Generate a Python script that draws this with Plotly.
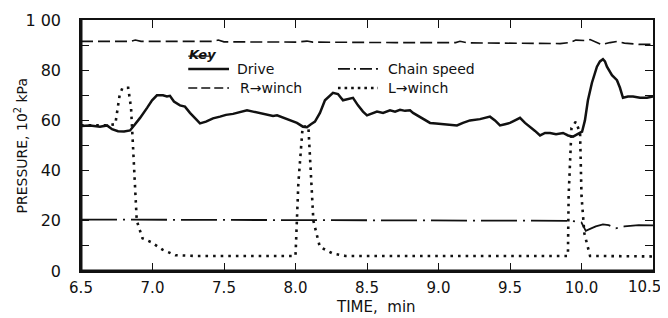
import plotly.graph_objects as go

# ---- data ----
drive_t = [6.500, 6.563, 6.633, 6.682, 6.717, 6.759, 6.801, 6.843, 6.871, 6.913, 6.962, 6.997,
           7.031, 7.073, 7.101, 7.122, 7.150, 7.192, 7.227, 7.262, 7.304, 7.332, 7.374, 7.423,
           7.472, 7.514, 7.563, 7.612, 7.661, 7.703, 7.752, 7.801, 7.843, 7.871, 7.913, 7.962,
           8.010, 8.052, 8.080, 8.108, 8.136, 8.171, 8.206, 8.262, 8.297, 8.332, 8.367, 8.402,
           8.437, 8.472, 8.500, 8.535, 8.570, 8.612, 8.661, 8.696, 8.731, 8.766, 8.801, 8.822,
           8.850, 8.892, 8.941, 8.983, 9.031, 9.080, 9.129, 9.171, 9.220, 9.290, 9.360, 9.395,
           9.430, 9.465, 9.500, 9.535, 9.570, 9.605, 9.640, 9.675, 9.710, 9.745, 9.780, 9.822,
           9.871, 9.906, 9.941, 9.976, 10.004, 10.024, 10.045, 10.073, 10.108, 10.129, 10.150,
           10.164, 10.178, 10.213, 10.248, 10.269, 10.290, 10.325, 10.360, 10.409, 10.458, 10.500]
drive_p = [57.8, 58.0, 57.5, 58.0, 56.5, 55.7, 55.6, 56.0, 58.0, 61.0, 65.0, 68.0,
           70.0, 70.0, 69.5, 69.8, 67.5, 66.0, 65.5, 63.0, 60.5, 58.8, 59.5, 60.8,
           61.5, 62.2, 62.6, 63.2, 64.0, 63.5, 63.0, 62.5, 61.8, 62.0, 61.0, 60.0,
           59.0, 57.5, 57.3, 58.5, 59.5, 63.0, 68.0, 71.0, 70.5, 68.0, 68.5, 69.0,
           66.0, 63.5, 62.0, 62.8, 63.5, 63.0, 64.0, 63.5, 64.2, 63.8, 64.0, 63.0,
           62.0, 60.5, 59.0, 58.8, 58.5, 58.3, 58.0, 59.0, 60.0, 60.5, 61.5, 60.0,
           58.0, 58.5, 59.0, 60.0, 61.0, 59.0, 57.5, 55.8, 54.0, 55.0, 55.0, 54.5,
           55.0, 54.0, 53.5, 54.5, 55.5, 60.0, 68.0, 75.0, 81.4, 83.5, 84.4,
           83.5, 81.4, 78.0, 76.0, 73.0, 69.0, 69.5, 69.5, 69.0, 69.0, 69.5]

rwinch_t = [6.50, 6.85, 6.88, 6.92, 7.42, 7.46, 7.50, 8.00, 8.08, 8.12, 8.70, 9.12, 9.15,
            9.20, 9.85, 9.92, 9.96, 10.02, 10.06, 10.10, 10.14, 10.20, 10.25, 10.30, 10.40, 10.50]
rwinch_p = [91.5, 91.5, 92.0, 91.5, 91.5, 92.0, 91.3, 91.2, 91.6, 91.2, 91.0, 91.0, 91.5,
            90.9, 90.6, 91.0, 92.0, 91.8, 92.2, 91.2, 90.2, 91.0, 91.5, 90.8, 90.3, 90.3]

lwinch_t = [6.50, 6.68, 6.74, 6.77, 6.79, 6.83, 6.85, 6.87, 6.89, 6.93, 6.99, 7.07, 7.16,
            7.30, 7.99, 8.00, 8.02, 8.05, 8.09, 8.11, 8.125, 8.17, 8.26, 8.35, 9.905, 9.91,
            9.93, 9.96, 9.99, 10.00, 10.02, 10.06, 10.50]
lwinch_p = [58.0, 58.0, 58.5, 70.0, 73.0, 73.0, 65.0, 40.0, 20.0, 13.0, 11.5, 8.5, 6.3,
            6.0, 6.0, 6.0, 35.0, 57.5, 57.5, 35.0, 20.0, 9.6, 7.0, 6.0, 6.0, 30.0,
            57.0, 59.5, 55.0, 30.0, 15.0, 6.0, 5.8]

chain_t = [6.50, 9.90, 9.93, 10.00, 10.03, 10.06, 10.10, 10.15, 10.19, 10.24, 10.30, 10.40, 10.50]
chain_p = [20.5, 20.3, 20.0, 19.3, 16.0, 16.8, 17.8, 18.6, 18.3, 17.0, 17.8, 18.3, 18.2]

x_ticks = [6.5, 7.0, 7.5, 8.0, 8.5, 9.0, 9.5, 10.0, 10.5]
x_labels = ["6.5", "7.0", "7.5", "8.0", "8.5", "9.0", "9.5", "10.0", "10.5"]
y_ticks = [0, 20, 40, 60, 80, 100]
y_labels = ["0", "20", "40", "60", "80", "1 00"]
y_minor_ticks = [10, 30, 50, 70, 90]

legend_names = ["Drive", "Chain speed", "R\u2192winch", "L\u2192winch"]
x_title = "TIME,  min"
y_title = "PRESSURE, 10<sup>2</sup> kPa"

FONT = "DejaVu Sans, sans-serif"
BLACK = "#111111"

fig = go.Figure()
fig.add_trace(go.Scatter(x=lwinch_t, y=lwinch_p, mode="lines",
                         line=dict(color=BLACK, width=2.6, dash="2.6px,5px"),
                         name=legend_names[3], showlegend=False))
fig.add_trace(go.Scatter(x=chain_t, y=chain_p, mode="lines",
                         line=dict(color=BLACK, width=1.8, dash="36px,6px,2px,6px"),
                         name=legend_names[1], showlegend=False))
fig.add_trace(go.Scatter(x=rwinch_t, y=rwinch_p, mode="lines",
                         line=dict(color=BLACK, width=1.6, dash="12px,5px"),
                         name=legend_names[2], showlegend=False))
fig.add_trace(go.Scatter(x=drive_t, y=drive_p, mode="lines",
                         line=dict(color=BLACK, width=2.5),
                         name=legend_names[0], showlegend=False))

# ---- key drawn inside the plot ----
key_items = [
    (7.25, 7.535, 7.58, 80.5, legend_names[0], dict(color=BLACK, width=2.6)),
    (8.297, 8.577, 8.63, 80.5, legend_names[1], dict(color=BLACK, width=1.8, dash="12px,4px,2px,4px")),
    (7.25, 7.535, 7.60, 72.9, legend_names[2], dict(color=BLACK, width=1.6, dash="9px,4px")),
    (8.297, 8.577, 8.63, 72.9, legend_names[3], dict(color=BLACK, width=2.6, dash="2.6px,4px")),
]
for x0, x1, xt, yy, name, ln in key_items:
    fig.add_trace(go.Scatter(x=[x0, x1], y=[yy, yy], mode="lines", line=ln,
                             hoverinfo="skip", showlegend=False))
    fig.add_annotation(x=xt, y=yy, xref="x", yref="y", text=name, showarrow=False,
                       xanchor="left", yanchor="middle",
                       font=dict(family=FONT, size=14, color=BLACK))
fig.add_annotation(x=7.24, y=86.3, xref="x", yref="y",
                   text="<b><i>Key</i></b>",
                   showarrow=False, xanchor="left", yanchor="middle",
                   font=dict(family=FONT, size=13, color=BLACK))
fig.add_shape(type="line", xref="x", yref="y", x0=7.25, x1=7.40, y0=85.6, y1=85.6,
              line=dict(color=BLACK, width=1.2))

# axis titles and the last x label (placed so it stays inside the page)
fig.add_annotation(x=0.516, y=0, xref="paper", yref="paper", yshift=-36,
                   text=x_title, showarrow=False, xanchor="center", yanchor="middle",
                   font=dict(family=FONT, size=15, color=BLACK))
fig.add_annotation(x=0, y=0.5, xref="paper", yref="paper", xshift=-60,
                   text=y_title, textangle=-90, showarrow=False,
                   xanchor="center", yanchor="middle",
                   font=dict(family=FONT, size=14, color=BLACK))
fig.add_annotation(x=x_ticks[-1], y=0, xref="x", yref="paper", yshift=-16, xshift=-9,
                   text=x_labels[-1], showarrow=False, xanchor="center", yanchor="middle",
                   font=dict(family=FONT, size=15, color=BLACK))

fig.update_xaxes(range=[6.5, 10.5], tickvals=x_ticks[:-1], ticktext=x_labels[:-1],
                 ticks="inside", ticklen=8, tickwidth=1.3, tickcolor=BLACK,
                 showline=True, linecolor=BLACK, linewidth=1.6, mirror="ticks",
                 showgrid=False, zeroline=False, ticklabelstandoff=2, automargin=False,
                 tickfont=dict(family=FONT, size=15, color=BLACK))
fig.update_yaxes(range=[0, 100], tickvals=y_ticks, ticktext=y_labels,
                 ticks="inside", ticklen=8, tickwidth=1.3, tickcolor=BLACK,
                 minor=dict(tickvals=y_minor_ticks, ticks="inside", ticklen=8,
                            tickwidth=1.3, tickcolor=BLACK, showgrid=False),
                 showline=True, linecolor=BLACK, linewidth=1.6, mirror="ticks",
                 showgrid=False, zeroline=False, ticklabelstandoff=15, automargin=False,
                 tickfont=dict(family=FONT, size=16, color=BLACK))

# heavier left and bottom frame edges
fig.add_shape(type="line", xref="paper", yref="paper", x0=0, x1=0, y0=0, y1=1,
              line=dict(color=BLACK, width=3))
fig.add_shape(type="line", xref="paper", yref="paper", x0=0, x1=1, y0=0, y1=0,
              line=dict(color=BLACK, width=3))

# the page body adds an 8px offset, so the figure is sized to fit the window
fig.update_layout(width=660, height=310, margin=dict(l=73, r=15, t=12, b=47),
                  paper_bgcolor="white", plot_bgcolor="white", showlegend=False)

fig.write_html("out.html")
